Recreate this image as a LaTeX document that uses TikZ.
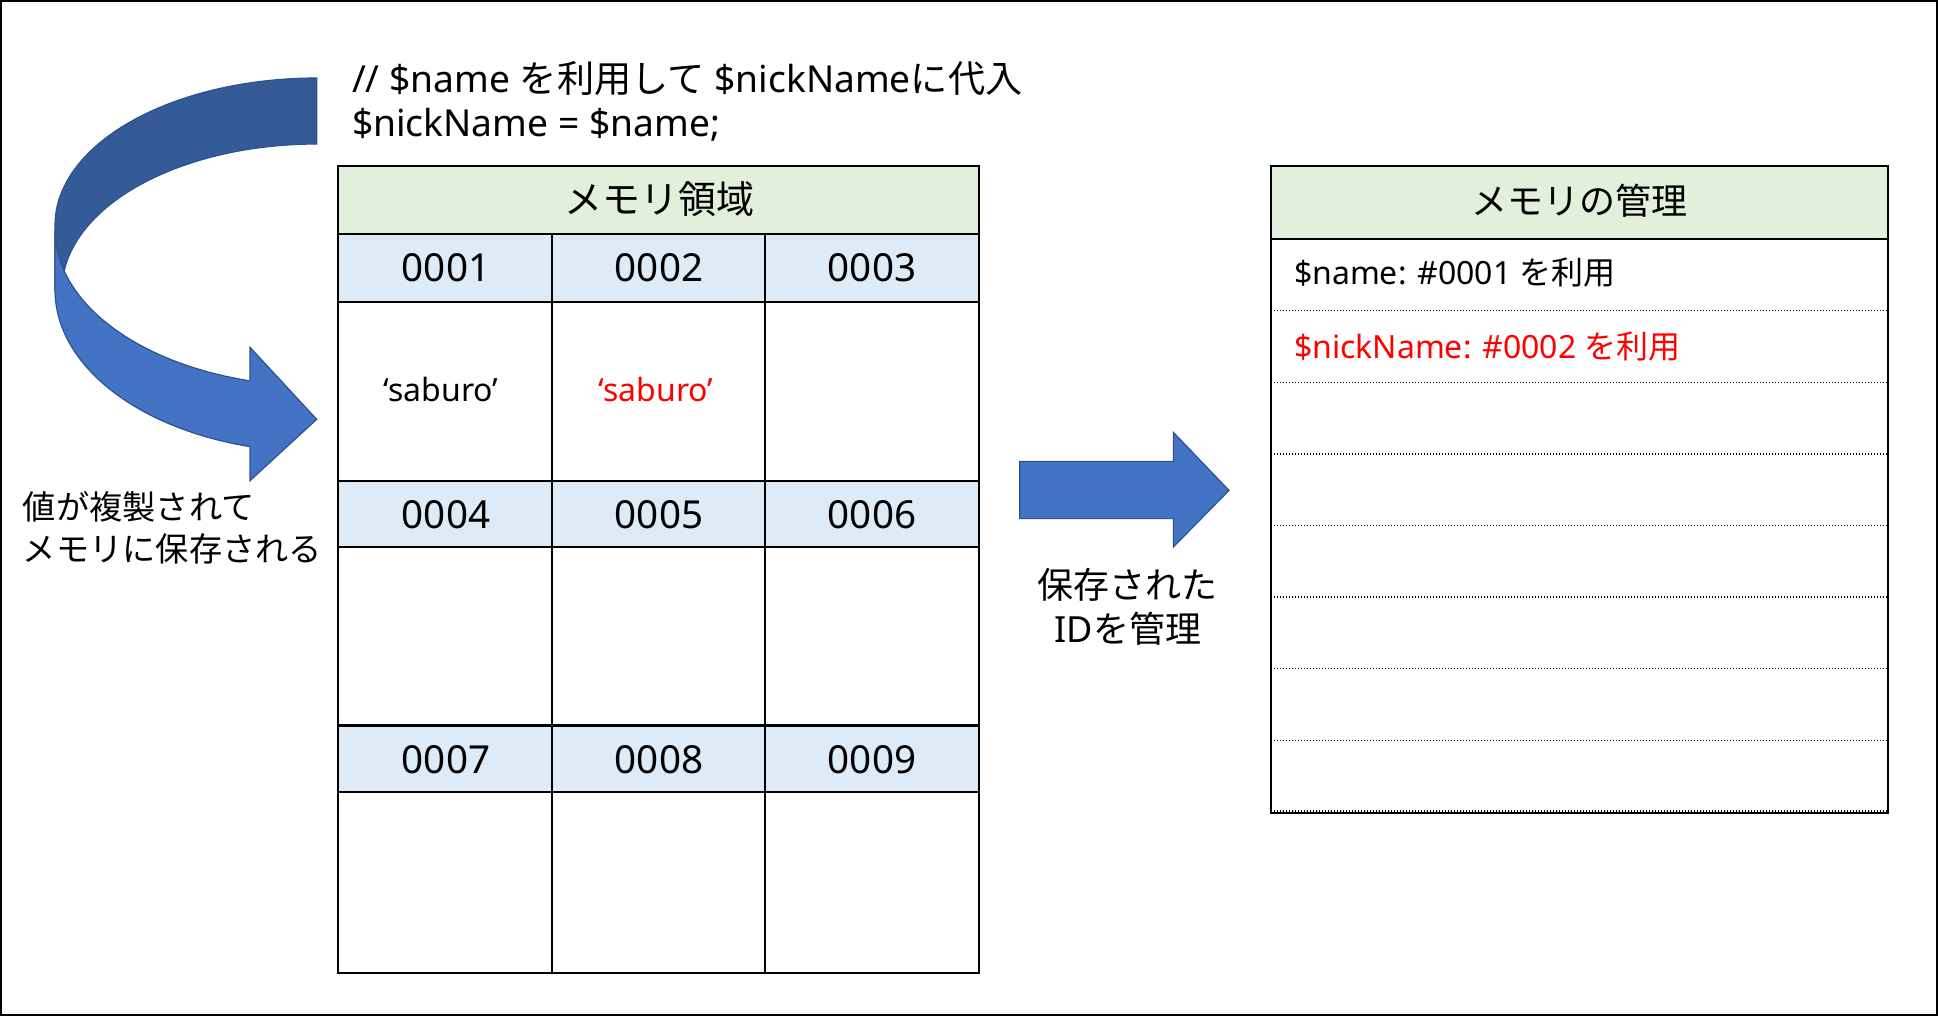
\documentclass[tikz,border=0pt]{standalone}
\usepackage{fontspec}
\setmainfont{Noto Sans}
\newfontfamily\jp{Noto Sans CJK JP}
\definecolor{hdrgreen}{HTML}{E2EFDA}
\definecolor{idblue}{HTML}{DDEBF7}
\definecolor{arrlight}{HTML}{4472C4}
\definecolor{arrdark}{HTML}{345A97}
\definecolor{arrline}{HTML}{2F528F}
\definecolor{txtred}{HTML}{FF0000}
\begin{document}
\begin{tikzpicture}[x=0.5pt,y=-0.5pt,
  gridline/.style={draw=black,line width=1.1pt},
  mgrline/.style={draw=black,line width=1pt},
  dotline/.style={draw=black,line width=0.7pt,dash pattern=on 0.7pt off 0.8pt},
  arrfill/.style={fill=arrlight,draw=arrline,line width=0.6pt},
  arrback/.style={fill=arrdark,draw=arrline,line width=0.6pt},
  plain/.style={inner sep=0pt,outer sep=0pt},
  codetxt/.style={plain,anchor=base west,font=\fontsize{18.6pt}{22pt}\selectfont},
  hdrtxt/.style={plain,anchor=base,font=\jp\fontsize{19pt}{23pt}\selectfont},
  mhdrtxt/.style={plain,anchor=base,font=\jp\fontsize{18pt}{22pt}\selectfont},
  idtxt/.style={plain,anchor=base,font=\fontsize{19.3pt}{23pt}\selectfont},
  valtxt/.style={plain,anchor=base,font=\fontsize{16pt}{20pt}\selectfont},
  mgrtxt/.style={plain,anchor=base west,font=\fontsize{16pt}{19pt}\selectfont},
  lbltxt/.style={plain,anchor=base west,font=\jp\fontsize{16.6pt}{20pt}\selectfont},
  arrtxt/.style={plain,anchor=base,font=\fontsize{18pt}{22pt}\selectfont},
]
\useasboundingbox (0,0) rectangle (1938,1016);
\draw[line width=1pt] (1,1) rectangle (1937,1015);

% curved arrow: back (dark) band
\path[arrback] plot[domain=270:180,samples=50] ({316.7+261.7*cos(\x)},{225+147*sin(\x)})
  -- (55,290)
  -- plot[domain=180:270,samples=50] ({316.7+254.7*cos(\x)},{290+146*sin(\x)})
  -- cycle;
% curved arrow: front (light) band with head
\path[arrfill] plot[domain=180:104.8,samples=50] ({316.7+261.7*cos(\x)},{230+156*sin(\x)})
  -- (250,347.3) -- (316.7,419.3) -- (250,480.7) -- (250,446.7)
  -- plot[domain=104.8:180,samples=50] ({316.7+261.7*cos(\x)},{290+162*sin(\x)})
  -- cycle;

% code text
\node[codetxt] (code1) at (352,93) {// \$name {\jp を利用して} \$nickName{\jp に代入}};
\node[codetxt] (code2) at (352,137) {\$nickName = \$name;};

% memory area table
\fill[hdrgreen] (338,166) rectangle (979,234);
\fill[idblue] (338,234) rectangle (979,302);
\fill[idblue] (338,480.7) rectangle (979,547.3);
\fill[idblue] (338,725.5) rectangle (979,792);
\draw[gridline] (338,166) rectangle (979,973);
\foreach \yy in {234,302,480.7,547.3,725.5,792} \draw[gridline] (338,\yy) -- (979,\yy);
\foreach \xx in {551.7,765.3} \draw[gridline] (\xx,234) -- (\xx,973);
\node[hdrtxt] (memhdr) at (659,214) {メモリ領域};
\node[idtxt] (id1) at (446,282) {0001};
\node[idtxt] (id2) at (659,282) {0002};
\node[idtxt] (id3) at (872,282) {0003};
\node[idtxt] (id4) at (446,528) {0004};
\node[idtxt] (id5) at (659,528) {0005};
\node[idtxt] (id6) at (872,528) {0006};
\node[idtxt] (id7) at (446,773) {0007};
\node[idtxt] (id8) at (659,773) {0008};
\node[idtxt] (id9) at (872,773) {0009};
\node[valtxt] (val1) at (441,401) {‘saburo’};
\node[valtxt,text=txtred] (val2) at (656,401) {‘saburo’};

% left label
\node[lbltxt] (lbl1) at (23,519) {値が複製されて};
\node[lbltxt] (lbl2) at (23,561) {メモリに保存される};

% straight arrow
\path[arrfill] (1019.7,461.4) -- (1173.4,461.4) -- (1173.4,432.4) -- (1229,490.4)
  -- (1173.4,547) -- (1173.4,518.6) -- (1019.7,518.6) -- cycle;
\node[arrtxt,font=\jp\fontsize{18pt}{22pt}\selectfont] (alab1) at (1127,598) {保存された};
\node[arrtxt] (alab2) at (1128,642) {ID{\jp を管理}};

% memory management table
\fill[hdrgreen] (1270.5,166) rectangle (1887.5,239);
\foreach \yy in {310.6,382.2,453.8,525.4,597,668.6,740.2,811} \draw[dotline] (1270.5,\yy) -- (1887.5,\yy);
\draw[mgrline] (1270.5,239) -- (1887.5,239);
\draw[mgrline] (1270.5,166) rectangle (1887.5,812.5);
\node[mhdrtxt] (mgrhdr) at (1579,214.5) {メモリの管理};
\node[mgrtxt] (mgr1) at (1294,285) {\$name: \#0001 {\jp を利用}};
\node[mgrtxt,text=txtred] (mgr2) at (1294,358) {\$nickName: \#0002 {\jp を利用}};
\end{tikzpicture}
\end{document}
